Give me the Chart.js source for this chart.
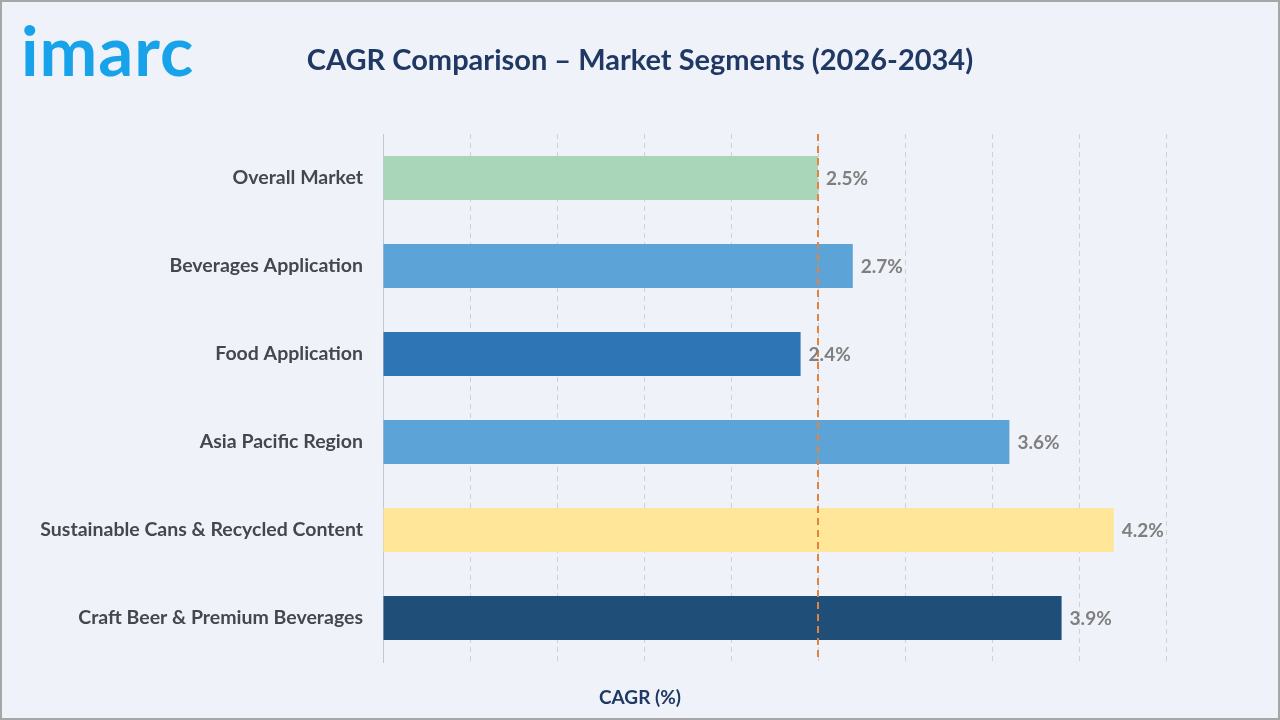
<!DOCTYPE html>
<html>
<head>
<meta charset="utf-8">
<script src="https://cdn.jsdelivr.net/npm/chart.js@4.4.1/dist/chart.umd.min.js"></script>
<style>
  html, body { margin: 0; padding: 0; background: #a6a6a6; }
  #wrap {
    position: relative;
    width: 1276px; height: 716px;
    margin: 2px;
    background: #eff3f9;
  }
  #logo {
    position: absolute; left: 19px; top: 6px;
    font-family: Lato, "Open Sans", sans-serif; font-weight: 700;
    font-size: 69px; color: #17a2ea; letter-spacing: 1px;
  }
  canvas { position: absolute; left: -2px; top: -2px; }
</style>
</head>
<body>
<div id="wrap">
  <div id="logo">imarc</div>
  <canvas id="cagrChart" width="1280" height="720"></canvas>
</div>
<script>
const categories = [
    "Overall Market",
    "Beverages Application",
    "Food Application",
    "Asia Pacific Region",
    "Sustainable Cans & Recycled Content",
    "Craft Beer & Premium Beverages",
];
const cagrValues = [2.5, 2.7, 2.4, 3.6, 4.2, 3.9];
const barColors = ["#a9d6b9", "#5ca4d7", "#2e75b6", "#5ca4d7", "#ffe699", "#1f4e79"];
const overallCagr = 2.5;
const xMin = 0;
const xMax = 4.5;
const xStep = 0.5;

const FONT = "Lato, 'Open Sans', sans-serif";

// タイトル・軸タイトル・値ラベル・平均線
const overlay = {
    id: "overlay",
    afterDatasetsDraw(chart) {
        const { ctx, chartArea, scales } = chart;
        const x = scales.x;

        // 全体CAGRの破線
        const lx = x.getPixelForValue(overallCagr);
        ctx.save();
        ctx.strokeStyle = "#e2843f";
        ctx.lineWidth = 2;
        ctx.setLineDash([7, 5]);
        ctx.beginPath();
        ctx.moveTo(lx, chartArea.top);
        ctx.lineTo(lx, chartArea.bottom);
        ctx.stroke();
        ctx.restore();

        // 値ラベル
        const meta = chart.getDatasetMeta(0);
        ctx.save();
        ctx.font = "bold 19px " + FONT;
        ctx.fillStyle = "#7f7f7f";
        ctx.textBaseline = "middle";
        ctx.textAlign = "left";
        meta.data.forEach((bar, i) => {
            ctx.fillText(cagrValues[i].toFixed(1) + "%", bar.x + 8, bar.y + 1);
        });
        ctx.restore();
    },
    afterDraw(chart) {
        const { ctx } = chart;
        ctx.save();
        ctx.textAlign = "center";
        ctx.textBaseline = "middle";
        ctx.fillStyle = "#203864";
        ctx.font = "bold 29px " + FONT;
        ctx.fillText("CAGR Comparison \u2013 Market Segments (2026-2034)", 640, 61);
        ctx.font = "bold 19px " + FONT;
        ctx.fillText("CAGR (%)", 640, 698);
        ctx.restore();
    },
};

const ctx = document.getElementById("cagrChart").getContext("2d");
const cagrChart = new Chart(ctx, {
    type: "bar",
    data: {
        labels: categories,
        datasets: [
            {
                data: cagrValues,
                backgroundColor: barColors,
                borderWidth: 0,
                barPercentage: 0.5,
                categoryPercentage: 1.0,
            },
        ],
    },
    options: {
        indexAxis: "y",
        responsive: false,
        animation: false,
        layout: {
            padding: { left: 0, right: 114, top: 134, bottom: 58 },
        },
        scales: {
            x: {
                min: xMin,
                max: xMax,
                ticks: { display: false, stepSize: xStep },
                grid: {
                    color: "#cdd1d8",
                    drawTicks: false,
                },
                border: { display: false, dash: [5, 4] },
            },
            y: {
                afterFit(scale) {
                    scale.width = 383;
                },
                ticks: {
                    color: "#45474d",
                    padding: 20,
                    font: { family: FONT, size: 19.5, weight: "bold" },
                },
                grid: { display: false, drawTicks: false },
                border: { color: "#c4c7cc", width: 1 },
            },
        },
        plugins: {
            legend: { display: false },
            tooltip: { enabled: false },
        },
    },
    plugins: [overlay],
});
</script>
</body>
</html>
